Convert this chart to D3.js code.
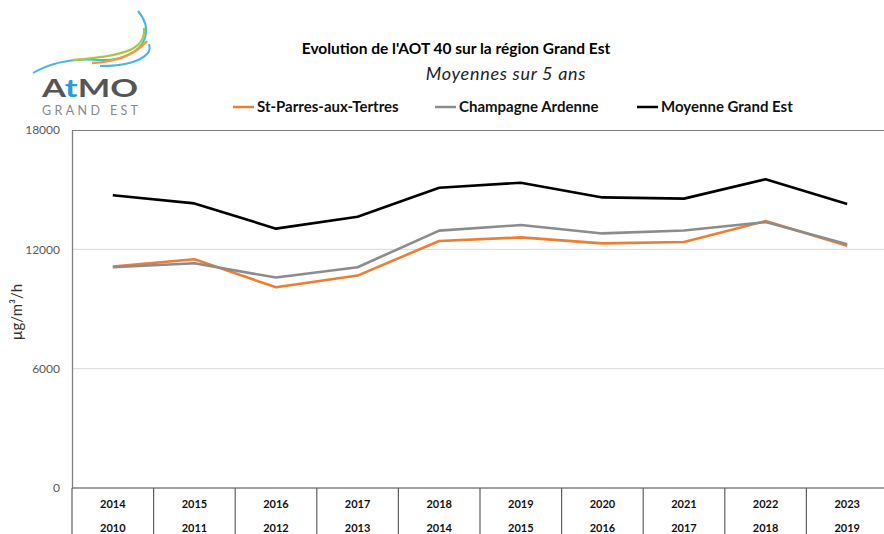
<!DOCTYPE html>
<html lang="fr">
  <head>
    <meta charset="UTF-8" />
    <title>AOT 40 Grand Est</title>
    <script src="https://cdn.jsdelivr.net/npm/d3@7/dist/d3.min.js"></script>
    <style>
      body { margin: 0; background: #fff; }
      text { font-family: Lato, "Noto Sans", sans-serif; }
    </style>
  </head>
  <body>
    <div id="chart"></div>
    <script>
      // categories: end year of the 5-year window, and start year
      const endYears = ["2014", "2015", "2016", "2017", "2018", "2019", "2020", "2021", "2022", "2023"];
      const startYears = ["2010", "2011", "2012", "2013", "2014", "2015", "2016", "2017", "2018", "2019"];

      // series values (µg/m³/h)
      const stParres = [11130, 11500, 10090, 10680, 12420, 12600, 12300, 12370, 13420, 12180];
      const champagne = [11100, 11300, 10580, 11100, 12940, 13220, 12800, 12950, 13370, 12250];
      const grandEst = [14720, 14310, 13040, 13640, 15100, 15350, 14610, 14550, 15520, 14280];

      const yTicks = [0, 6000, 12000, 18000];

      const series = [
        { name: "St-Parres-aux-Tertres", values: stParres, color: "#ED7D31" },
        { name: "Champagne Ardenne", values: champagne, color: "#8C8C8C" },
        { name: "Moyenne Grand Est", values: grandEst, color: "#000000" },
      ];

      var W = 884, H = 534;
      var margin = { top: 130, right: -4, bottom: 46, left: 72 },
        width = W - margin.left - margin.right,
        height = H - margin.top - margin.bottom;

      var svg = d3.select("#chart").append("svg")
        .attr("width", W).attr("height", H);

      // logo
      var logo = svg.append("g");
      logo.append("path")
        .attr("d", "M33,73 C52,62 75,58 100,60 C122,61 140,52 145,38 C148,28 144,18 138,11")
        .attr("fill", "none").attr("stroke", "#4BB3E6").attr("stroke-width", 2);
      logo.append("path")
        .attr("d", "M73,60 C96,58 118,56 132,49 C141,44 145,36 144,28")
        .attr("fill", "none").attr("stroke", "#A5C83C").attr("stroke-width", 2.3);
      logo.append("path")
        .attr("d", "M92,63 C114,62 134,56 147,41")
        .attr("fill", "none").attr("stroke", "#F39A2E").attr("stroke-width", 2.3);
      logo.append("path")
        .attr("d", "M100,66 C122,66 140,62 148,53 C150,50 150,47 149,44")
        .attr("fill", "none").attr("stroke", "#4BB3E6").attr("stroke-width", 2);
      var atmo = logo.append("text").attr("x", 42).attr("y", 97)
        .attr("font-size", 25).attr("font-weight", "bold").attr("fill", "#555")
        .attr("textLength", 96).attr("lengthAdjust", "spacingAndGlyphs");
      atmo.append("tspan").text("A");
      atmo.append("tspan").attr("fill", "#2B9BD8").text("t");
      atmo.append("tspan").text("MO");
      logo.append("text").attr("x", 42).attr("y", 115)
        .attr("font-size", 12.5).attr("fill", "#888")
        .attr("textLength", 96).attr("lengthAdjust", "spacing")
        .text("GRAND EST");

      // titles
      svg.append("text").attr("x", 456).attr("y", 54).attr("text-anchor", "middle")
        .attr("font-size", 15.5).attr("font-weight", "bold").attr("fill", "#000")
        .text("Evolution de l'AOT 40 sur la région Grand Est");
      svg.append("text").attr("x", 506).attr("y", 80).attr("text-anchor", "middle")
        .attr("font-size", 18).attr("font-style", "italic").attr("fill", "#222")
        .attr("letter-spacing", 0.7)
        .text("Moyennes sur 5 ans");

      // legend
      const legendX = [233, 435, 637];
      var legend = svg.append("g").selectAll("g").data(series).enter().append("g")
        .attr("transform", (d, i) => "translate(" + legendX[i] + ",107)");
      legend.append("line").attr("x1", 0).attr("x2", 21)
        .attr("stroke", (d) => d.color).attr("stroke-width", 2.5);
      legend.append("text").attr("x", 24).attr("y", 5)
        .attr("font-size", 15).attr("font-weight", "bold").attr("fill", "#111")
        .text((d) => d.name);

      var g = svg.append("g")
        .attr("transform", "translate(" + margin.left + "," + margin.top + ")");

      var x = d3.scaleBand().domain(endYears).range([0, width]);
      var y = d3.scaleLinear().domain([0, 18000]).range([height, 0]);

      // gridlines
      g.append("g").selectAll("line").data(yTicks.slice(1, 3)).enter().append("line")
        .attr("x1", 0).attr("x2", width)
        .attr("y1", (d) => y(d)).attr("y2", (d) => y(d))
        .attr("stroke", "#D9D9D9").attr("stroke-width", 1);

      // top border
      g.append("line").attr("x1", 0).attr("x2", width).attr("y1", 0.5).attr("y2", 0.5)
        .attr("stroke", "#808080");

      // y axis
      var yAxis = g.append("g")
        .call(d3.axisLeft(y).tickValues(yTicks).tickSize(0).tickPadding(12).tickFormat(d3.format("d")));
      yAxis.select(".domain").attr("stroke", "#808080").attr("stroke-width", 1.3);
      yAxis.selectAll("text").attr("font-size", 12).attr("fill", "#595959")
        .style("font-family", "Lato, 'Noto Sans', sans-serif");

      svg.append("text")
        .attr("transform", "translate(22,312) rotate(-90)")
        .attr("text-anchor", "middle").attr("font-size", 15).attr("fill", "#333")
        .text("µg/m³/h");

      // category table below the plot
      var table = g.append("g").attr("transform", "translate(0," + height + ")");
      table.append("line").attr("x1", 0).attr("x2", width)
        .attr("stroke", "#808080").attr("stroke-width", 1.3);
      table.selectAll("line.sep").data(endYears).enter().append("line")
        .attr("class", "sep")
        .attr("x1", (d) => x(d)).attr("x2", (d) => x(d))
        .attr("y1", 0).attr("y2", 50)
        .attr("stroke", "#606060").attr("stroke-width", 1.2);
      table.selectAll("text.end").data(endYears).enter().append("text")
        .attr("x", (d) => x(d) + x.bandwidth() / 2).attr("y", 20)
        .attr("text-anchor", "middle").attr("font-size", 11).attr("font-weight", "bold")
        .attr("fill", "#111").text((d) => d);
      table.selectAll("text.start").data(startYears).enter().append("text")
        .attr("x", (d, i) => x(endYears[i]) + x.bandwidth() / 2).attr("y", 44)
        .attr("text-anchor", "middle").attr("font-size", 11).attr("font-weight", "bold")
        .attr("fill", "#111").text((d) => d);

      // lines
      var line = d3.line()
        .x((d, i) => x(endYears[i]) + x.bandwidth() / 2)
        .y((d) => y(d));
      g.selectAll("path.series").data(series).enter().append("path")
        .attr("class", "series")
        .attr("d", (d) => line(d.values))
        .attr("fill", "none")
        .attr("stroke", (d) => d.color)
        .attr("stroke-width", 2.6)
        .attr("stroke-linejoin", "round");
    </script>
  </body>
</html>
